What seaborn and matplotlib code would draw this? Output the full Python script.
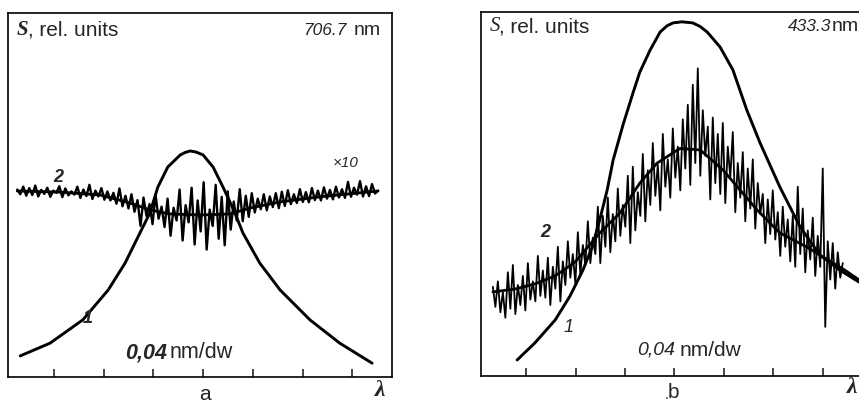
import numpy as np
import matplotlib
matplotlib.use("Agg")
import matplotlib.pyplot as plt
import seaborn as sns

# ==============================
# DATA (x in scale divisions of 0.04 nm, y in rel. units)
# ==============================

# panel a : 706.7 nm
a_curve1_x = [0.32, 0.92, 1.58, 2.09, 2.43, 2.73, 2.93, 3.09, 3.29, 3.54, 3.64, 3.74,
              3.86, 4.00, 4.20, 4.40, 4.64, 4.80, 5.14, 5.55, 6.15, 6.75, 7.40]
a_curve1_y = [5.8, 9.3, 15.7, 23.9, 31.3, 39.6, 45.1, 52.2, 57.7, 61.0, 61.7, 62.1,
              61.8, 61.0, 57.7, 52.2, 45.1, 39.6, 31.3, 23.9, 15.7, 9.3, 3.8]

a_curve2_x = [0.26, 1.12, 1.93, 2.53, 2.93, 3.33, 3.94, 4.54, 4.94, 5.55, 6.35, 7.52]
a_curve2_y = [51.1, 50.8, 50.0, 47.8, 45.9, 44.8, 44.5, 44.8, 46.4, 48.1, 49.5, 51.1]

a_noise_start, a_noise_end = 0.26, 7.52
a_noise_y = [51.5, 50.2, 52.3, 49.8, 51.9, 50.0, 52.6, 49.6, 51.4, 50.3,
             52.0, 49.5, 51.2, 50.6, 52.4, 49.4, 51.8, 49.9, 51.0, 50.1,
             52.3, 49.2, 51.5, 49.7, 52.8, 48.9, 51.2, 49.6, 51.9, 48.7,
             51.0, 48.5, 50.6, 47.6, 51.8, 46.9, 49.8, 46.3, 50.2, 45.4,
             48.6, 41.5, 49.3, 44.2, 47.5, 42.0, 50.1, 43.5, 46.8, 41.2,
             49.0, 38.8, 46.5, 43.0, 51.5, 37.5, 47.2, 42.5, 52.0, 36.4,
             48.5, 40.0, 53.5, 35.0, 46.0, 41.5, 52.8, 38.0, 49.5, 36.2,
             51.0, 40.5, 48.2, 43.0, 51.6, 42.8, 49.8, 44.0, 50.5, 45.2,
             49.0, 46.1, 50.2, 45.8, 49.6, 46.7, 50.5, 46.4, 50.9, 47.0,
             51.3, 47.5, 50.2, 47.8, 51.6, 48.1, 50.8, 48.0, 51.9, 48.6,
             51.2, 48.5, 52.1, 49.0, 51.4, 48.8, 52.3, 49.3, 51.6, 49.2,
             53.6, 49.5, 52.0, 50.1, 53.8, 49.6, 52.4, 49.7, 53.0, 50.4,
             51.2]

# panel b : 433.3 nm
b_curve1_x = [0.82, 1.18, 1.59, 1.89, 2.15, 2.33, 2.49, 2.64, 2.76, 2.96, 3.16, 3.30,
              3.51, 3.71, 3.85, 3.97, 4.15, 4.37, 4.52, 4.66, 4.92, 5.18, 5.46, 5.73,
              6.13, 6.54, 6.94, 7.34, 7.73]
b_curve1_y = [4.4, 9.1, 15.4, 22.0, 29.1, 35.2, 42.9, 51.1, 59.3, 69.0, 77.7, 83.5,
              89.6, 94.5, 96.2, 97.0, 97.3, 97.0, 96.0, 94.5, 90.4, 84.1, 73.1, 64.0,
              51.9, 40.9, 33.2, 29.1, 25.8]

b_curve2_x = [0.33, 0.78, 1.18, 1.59, 1.99, 2.49, 2.90, 3.30, 3.65, 4.11, 4.52, 4.98,
              5.67, 6.13, 6.68, 7.00, 7.44, 7.73]
b_curve2_y = [23.1, 23.9, 25.3, 27.5, 31.3, 39.3, 44.8, 53.0, 58.5, 62.5, 62.1, 56.6,
              45.6, 39.3, 35.4, 32.7, 29.1, 26.4]

b_noise_start, b_noise_end = 0.33, 7.40
b_noise_y = [24.5, 19.0, 26.0, 17.5, 23.0, 16.0, 28.5, 18.5, 30.5, 17.0,
             25.0, 19.5, 27.5, 18.0, 31.0, 21.0, 26.0, 20.5, 33.0, 22.0,
             29.0, 21.5, 32.5, 19.5, 30.0, 24.0, 35.5, 20.5, 31.5, 25.0,
             37.0, 27.0, 33.5, 25.5, 39.5, 28.0, 36.0, 30.5, 42.5, 31.0,
             38.0, 33.5, 46.5, 31.0, 44.0, 35.5, 49.0, 34.0, 44.5, 37.0,
             51.5, 38.5, 47.0, 41.0, 55.0, 36.5, 57.5, 40.0, 50.5, 44.0,
             61.0, 42.5, 56.5, 47.0, 64.0, 49.5, 58.0, 45.5, 66.5, 52.0,
             59.5, 49.0, 68.0, 54.5, 63.0, 51.0, 70.5, 57.0, 74.5, 52.5,
             80.0, 58.5, 84.5, 55.0, 73.0, 60.5, 68.5, 48.5, 71.0, 53.0,
             66.5, 50.0, 69.5, 47.5, 63.0, 54.5, 67.0, 45.0, 58.5, 49.0,
             61.5, 42.5, 57.0, 46.0, 59.5, 40.5, 53.0, 44.5, 50.0, 36.5,
             48.5, 39.0, 51.0, 37.5, 45.0, 33.0, 46.5, 35.5, 43.0, 31.5,
             44.0, 30.0, 52.0, 33.5, 46.0, 28.5, 40.0, 32.0, 43.5, 27.5,
             38.5, 30.0, 57.0, 13.5, 37.0, 26.5, 36.5, 24.0, 34.0, 27.0,
             31.0]

tick_positions = [1, 2, 3, 4, 5, 6, 7]

# ==============================
# STYLE
# ==============================

sns.set_style("white")
plt.rcParams["font.family"] = ["Liberation Sans", "DejaVu Sans"]

fig = plt.figure(figsize=(8.59, 4.05), dpi=100)
ax_a = fig.add_axes([0.0093, 0.0691, 0.447, 0.8988])
ax_b = fig.add_axes([0.560, 0.0716, 0.447, 0.8988])


def draw_panel(ax, c1x, c1y, c2x, c2y, noise_y, n_start, n_end, noise_lw, xlim):
    noise_x = np.linspace(n_start, n_end, len(noise_y))
    sns.lineplot(x=noise_x, y=noise_y, ax=ax, color="black", lw=noise_lw,
                 estimator=None, sort=False)
    sns.lineplot(x=c2x, y=c2y, ax=ax, color="black", lw=2.0,
                 estimator=None, sort=False)
    sns.lineplot(x=c1x, y=c1y, ax=ax, color="black", lw=2.1,
                 estimator=None, sort=False)
    ax.set_xlim(*xlim)
    ax.set_ylim(0, 100)
    ax.set_xticks(tick_positions)
    ax.set_yticks([])
    ax.tick_params(axis="x", direction="in", length=6, width=1.2,
                   labelbottom=False, bottom=True)
    for sp in ax.spines.values():
        sp.set_visible(True)
        sp.set_color("black")
        sp.set_linewidth(1.2)
    ax.set_xlabel("")
    ax.set_ylabel("")


draw_panel(ax_a, a_curve1_x, a_curve1_y, a_curve2_x, a_curve2_y,
           a_noise_y, a_noise_start, a_noise_end, 1.7, (0.074, 7.80))
draw_panel(ax_b, b_curve1_x, b_curve1_y, b_curve2_x, b_curve2_y,
           b_noise_y, b_noise_start, b_noise_end, 1.3, (0.091, 7.85))

serif = ["Liberation Serif", "DejaVu Serif"]

# ---- panel a texts
ax_a.text(0.023, 0.953, "S", transform=ax_a.transAxes, ha="left", va="center",
          fontsize=15, family=serif, style="italic", weight="bold")
ax_a.text(0.052, 0.953, ", rel. units", transform=ax_a.transAxes, ha="left",
          va="center", fontsize=15)
ax_a.text(0.882, 0.953, "706.7", transform=ax_a.transAxes, ha="right",
          va="center", fontsize=12.5, style="italic")
ax_a.text(0.971, 0.953, "nm", transform=ax_a.transAxes, ha="right",
          va="center", fontsize=14)
ax_a.text(6.86, 58.8, "×10", ha="center", va="center", fontsize=11, style="italic")
ax_a.text(1.08, 54.7, "2", ha="center", va="center", fontsize=13,
          style="italic", weight="bold")
ax_a.text(1.68, 16.2, "1", ha="center", va="center", fontsize=13,
          style="italic", weight="bold")
ax_a.text(0.414, 0.066, "0,04", transform=ax_a.transAxes, ha="right",
          va="center", fontsize=15.5, style="italic", weight="bold")
ax_a.text(0.420, 0.066, "nm/dw", transform=ax_a.transAxes, ha="left",
          va="center", fontsize=15.5)

# ---- panel b texts
ax_b.text(0.023, 0.959, "S", transform=ax_b.transAxes, ha="left", va="center",
          fontsize=15, family=serif, style="italic")
ax_b.text(0.047, 0.959, ", rel. units", transform=ax_b.transAxes, ha="left",
          va="center", fontsize=15)
ax_b.text(0.911, 0.959, "433.3", transform=ax_b.transAxes, ha="right",
          va="center", fontsize=12.5, style="italic")
ax_b.text(0.913, 0.959, "nm", transform=ax_b.transAxes, ha="left",
          va="center", fontsize=14)
ax_b.text(1.38, 39.3, "2", ha="center", va="center", fontsize=13,
          style="italic", weight="bold")
ax_b.text(1.85, 13.2, "1", ha="center", va="center", fontsize=13, style="italic")
ax_b.text(0.505, 0.071, "0,04", transform=ax_b.transAxes, ha="right",
          va="center", fontsize=14, style="italic")
ax_b.text(0.517, 0.071, "nm/dw", transform=ax_b.transAxes, ha="left",
          va="center", fontsize=15)

# ---- panel letters and axis symbol
fig.text(0.2387, 0.025, "a", ha="center", va="center", fontsize=15)
fig.text(0.4424, 0.037, "λ", ha="center", va="center", fontsize=17,
         family=serif, style="italic", weight="bold")
fig.text(0.7835, 0.030, "b", ha="center", va="center", fontsize=15)
fig.text(0.7760, 0.024, ".", ha="center", va="center", fontsize=10)
fig.text(0.992, 0.044, "λ", ha="center", va="center", fontsize=17,
         family=serif, style="italic", weight="bold")

fig.savefig("out.png", dpi=100)
